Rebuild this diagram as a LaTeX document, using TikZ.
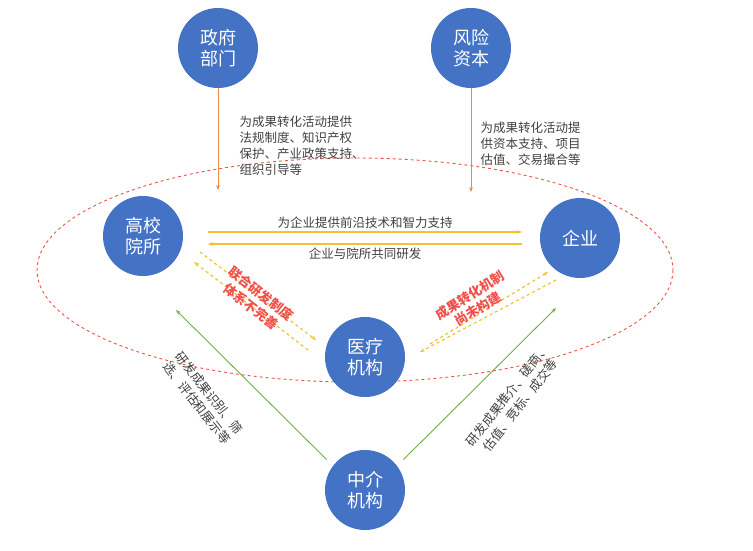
\documentclass[tikz,border=0pt]{standalone}
\usepackage{fontspec}
\setmainfont{Noto Sans CJK SC}
\usetikzlibrary{arrows.meta}
\definecolor{bluefill}{HTML}{4472C4}
\definecolor{linkyellow}{HTML}{F2C230}
\definecolor{linkorange}{HTML}{E8894A}
\definecolor{linkgreen}{HTML}{70AD47}
\definecolor{textgray}{HTML}{404040}
\definecolor{warnred}{HTML}{F0504A}

\begin{document}
\begin{tikzpicture}[x=1pt, y=-1pt,
    actor/.style={circle, fill=bluefill, minimum size=80pt, inner sep=0pt, text=white, font=\fontsize{18}{21}\selectfont, align=center},
    note/.style={text=textgray, font=\fontsize{12.5}{16}\selectfont, align=left},
    warn/.style={text=warnred, font=\fontsize{13}{16}\selectfont\bfseries, align=center},
    solidarrow/.style={-{Stealth[length=5pt]}, line width=1.2pt}]

    \useasboundingbox (0,0) rectangle (753,551);

    % outer boundary
    \draw[warnred, dashed, line width=0.9pt] (355,270) ellipse [x radius=318, y radius=112];

    % actors
    \node at (218,48) [actor] (gov) {政府\\部门};
    \node at (471,48) [actor] (vc) {风险\\资本};
    \node at (143,236) [actor] (uni) {高校\\院所};
    \node at (580,238) [actor] (ent) {企业};
    \node at (365,357) [actor] (med) {医疗\\机构};
    \node at (365,490) [actor] (agent) {中介\\机构};

    % support from above
    \coordinate (govend) at (218,190);
    \coordinate (vcend) at (471,192);
    \draw[solidarrow, linkorange, line width=0.9pt] (gov.south) -- (govend);
    \draw[solidarrow, linkorange, line width=0.9pt] (vc.south) -- (vcend);
    \node at (236,146) [note, anchor=west] (govtext) {为成果转化活动提供\\法规制度、知识产权\\保护、产业政策支持、\\组织引导等};
    \node at (477,144) [note, anchor=west] (vctext) {为成果转化活动提\\供资本支持、项目\\估值、交易撮合等};

    % university and enterprise
    \coordinate (ua) at (208,232);
    \coordinate (ea) at (522,232);
    \coordinate (ub) at (208,244);
    \coordinate (eb) at (522,244);
    \draw[solidarrow, linkyellow] (ua) -- (ea) node[midway, above, note] {为企业提供前沿技术和智力支持};
    \draw[solidarrow, linkyellow] (eb) -- (ub) node[midway, below, note] {企业与院所共同研发};

    % medical institution links
    \coordinate (l1) at (194,262);
    \coordinate (l2) at (308,350);
    \coordinate (l3) at (200,252);
    \coordinate (l4) at (316,340);
    \draw[-{Stealth[length=5pt]}, linkyellow, dashed, line width=1.2pt] (l2) -- (l1);
    \draw[-{Stealth[length=5pt]}, linkyellow, dashed, line width=1.2pt] (l3) -- (l4);
    \node at (256,300) [warn, rotate=-38] (lefttext) {联合研发制度\\体系不完善};
    \coordinate (r1) at (420,352);
    \coordinate (r2) at (548,272);
    \coordinate (r3) at (430,344);
    \coordinate (r4) at (556,280);
    \draw[-{Stealth[length=5pt]}, linkyellow, dashed, line width=1.2pt] (r3) -- (r2);
    \draw[-{Stealth[length=5pt]}, linkyellow, dashed, line width=1.2pt] (r4) -- (r1);
    \node at (474,302) [warn, rotate=32] (righttext) {成果转化机制\\尚未构建};

    % intermediary
    \coordinate (gl) at (176,310);
    \coordinate (gr) at (556,308);
    \draw[solidarrow, linkgreen, line width=0.9pt] (agent.north west) ++(-10,-2) coordinate (gls) -- (gl);
    \draw[solidarrow, linkgreen, line width=0.9pt] (agent.north east) ++(10,-2) coordinate (grs) -- (gr);
    \node at (203,398) [note, rotate=-52, align=center] (greenleft) {研发成果识别、筛\\选、评估和展示等};
    \node at (514,400) [note, rotate=52, align=center] (greenright) {研发成果推介、磋商、\\估值、竞标、成交等};
\end{tikzpicture}
\end{document}
